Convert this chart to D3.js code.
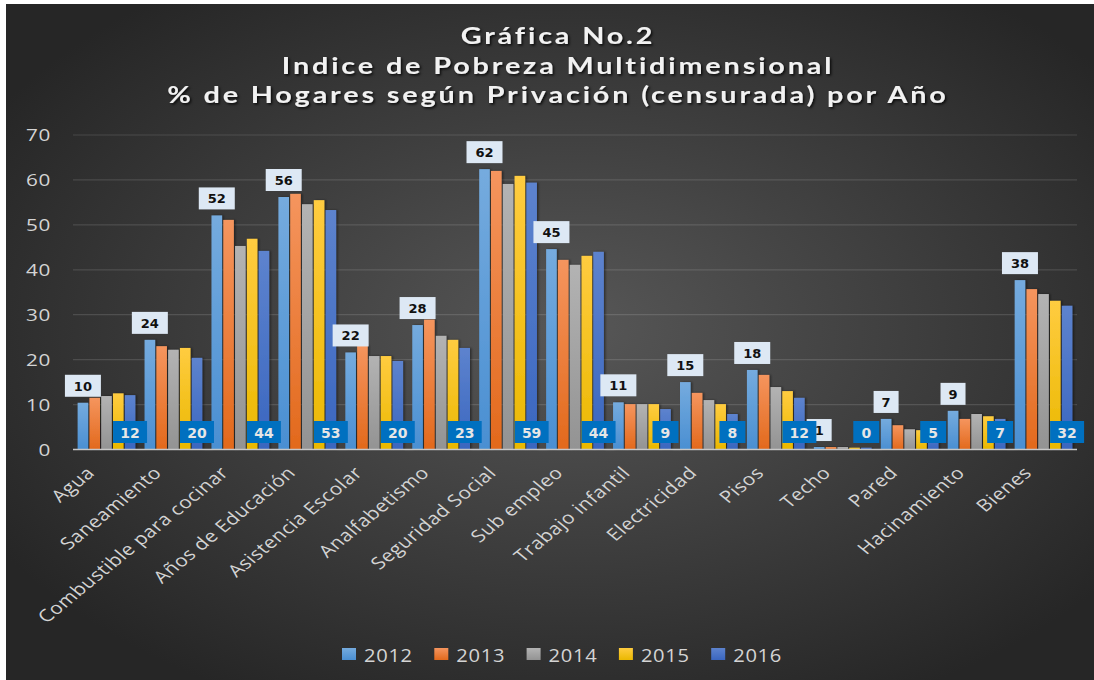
<!DOCTYPE html>
<html><head><meta charset="utf-8">
<script src="https://cdn.jsdelivr.net/npm/d3@7"></script>
<style>
html,body{margin:0;padding:0;background:#fff;}
svg{display:block;}
</style></head>
<body>
<svg id="chart" width="1094" height="680"></svg>
<script>
const categories = ["Agua","Saneamiento","Combustible para cocinar","Años de Educación","Asistencia Escolar","Analfabetismo","Seguridad Social","Sub empleo","Trabajo infantil","Electricidad","Pisos","Techo","Pared","Hacinamiento","Bienes"];
const years = ["2012","2013","2014","2015","2016"];
const v2012 = [10.4,24.4,52.1,56.2,21.6,27.7,62.4,44.6,10.5,15.0,17.7,0.55,6.8,8.6,37.7];
const v2013 = [11.5,23.0,51.1,56.9,23.2,28.9,62.0,42.2,10.1,12.6,16.6,0.55,5.4,6.8,35.7];
const v2014 = [11.9,22.2,45.3,54.6,20.8,25.3,59.1,41.1,10.1,11.0,13.9,0.55,4.5,7.9,34.6];
const v2015 = [12.5,22.6,46.9,55.5,20.8,24.4,60.9,43.1,10.1,10.1,13.0,0.4,4.3,7.4,33.1];
const v2016 = [12.1,20.4,44.2,53.3,19.7,22.6,59.4,44.0,9.0,7.9,11.5,0.4,4.6,6.8,32.0];
const yTicks = [0,10,20,30,40,50,60,70];
const titleLines = ["Gráfica No.2","Indice de Pobreza Multidimensional","% de Hogares según Privación (censurada) por Año"];
const seriesValues = [v2012,v2013,v2014,v2015,v2016];
const colors = {
  "2012":["#75abde","#4a8fd2"],
  "2013":["#f5955e","#e2691c"],
  "2014":["#b3b3b3","#939393"],
  "2015":["#ffcc40","#eab800"],
  "2016":["#5d83ce","#3a66bf"]
};
const SX = 1.22; // horizontal stretch of the reference's text

const svg = d3.select("#chart");
const defs = svg.append("defs");
const bg = defs.append("radialGradient").attr("id","bg").attr("cx","52%").attr("cy","48%").attr("r","62%");
bg.append("stop").attr("offset","0%").attr("stop-color","#575757");
bg.append("stop").attr("offset","100%").attr("stop-color","#262626");
years.forEach(y=>{
  const g = defs.append("linearGradient").attr("id","g"+y).attr("x1",0).attr("y1",0).attr("x2",0).attr("y2",1);
  g.append("stop").attr("offset","0%").attr("stop-color",colors[y][0]);
  g.append("stop").attr("offset","100%").attr("stop-color",colors[y][1]);
});
const sh = defs.append("filter").attr("id","tshadow").attr("x","-5%").attr("y","-20%").attr("width","110%").attr("height","140%");
sh.append("feDropShadow").attr("dx",1.5).attr("dy",1.5).attr("stdDeviation",1).attr("flood-color","#000").attr("flood-opacity",0.8);
const bsh = defs.append("filter").attr("id","bshadow").attr("x","-30%").attr("y","-5%").attr("width","160%").attr("height","110%");
bsh.append("feDropShadow").attr("dx",1.5).attr("dy",0).attr("stdDeviation",1).attr("flood-color","#000").attr("flood-opacity",0.45);

svg.append("rect").attr("x",6).attr("y",4).attr("width",1088).attr("height",676).attr("fill","url(#bg)");

// title
svg.append("g").attr("filter","url(#tshadow)").selectAll("text").data(titleLines).join("text")
  .attr("transform",(d,i)=>`translate(558,${44+i*29.5}) scale(1.25,1)`)
  .attr("text-anchor","middle")
  .attr("font-family","Lato, 'Open Sans', sans-serif").attr("font-weight","bold")
  .attr("font-size",23).attr("letter-spacing",2.3)
  .attr("fill","#f2f2f2").text(d=>d);

const x0 = d3.scaleBand().domain(categories).range([73,1077]).paddingInner(0.1375).paddingOuter(0.069);
const x1 = d3.scaleBand().domain(years).range([0,x0.bandwidth()]).paddingInner(0.1).paddingOuter(0);
const y = d3.scaleLinear().domain([0,70]).range([449.5,135]);

// gridlines
svg.append("g").selectAll("line").data(yTicks.filter(t=>t>0)).join("line")
  .attr("x1",73).attr("x2",1077).attr("y1",d=>y(d)).attr("y2",d=>y(d))
  .attr("stroke","#ffffff").attr("stroke-opacity",0.13).attr("stroke-width",1.2);

// y axis
const yAxis = d3.axisLeft(y).tickValues(yTicks).tickSize(0).tickPadding(0);
const ya = svg.append("g").attr("transform","translate(51,0)").call(yAxis);
ya.select(".domain").remove();
ya.selectAll("text").attr("x",0).attr("transform",`scale(${SX},1)`)
  .attr("font-family","'Open Sans', sans-serif").attr("font-size",17).attr("letter-spacing",0.5)
  .attr("fill","#d4d4d4").attr("dy","0.35em");

// bars
const groups = svg.append("g").selectAll("g").data(categories).join("g")
  .attr("transform",d=>`translate(${x0(d)},0)`);
groups.selectAll("rect").data((c,i)=>years.map((yr,k)=>({yr,v:seriesValues[k][i]}))).join("rect")
  .attr("x",d=>x1(d.yr)).attr("width",x1.bandwidth())
  .attr("y",d=>y(d.v)).attr("height",d=>y(0)-y(d.v))
  .attr("fill",d=>"url(#g"+d.yr+")").attr("filter","url(#bshadow)");

// zero axis line
svg.append("line").attr("x1",73).attr("x2",1077).attr("y1",y(0)).attr("y2",y(0))
  .attr("stroke","#c8c8c8").attr("stroke-width",1.6);

// x axis labels
const xAxis = d3.axisBottom(x0).tickSize(0).tickPadding(0);
const xa = svg.append("g").attr("transform",`translate(0,${y(0)})`).call(xAxis);
xa.select(".domain").remove();
xa.selectAll("text")
  .attr("font-family","'Open Sans', sans-serif").attr("font-size",17).attr("letter-spacing",0.4)
  .attr("fill","#d4d4d4").attr("text-anchor","end")
  .attr("transform",`translate(-21,16) scale(${SX},1) rotate(-45)`).attr("dy","0.7em").attr("y",0).attr("x",0);

// 2012 labels (outside end)
const lab1 = svg.append("g");
categories.forEach((c,i)=>{
  const v = v2012[i];
  const cx = x0(c)+x1("2012")+x1.bandwidth()/2;
  const t = String(Math.round(v));
  const w = t.length===1?25:36;
  const top = y(v)-6-22;
  lab1.append("rect").attr("x",cx-w/2).attr("y",top).attr("width",w).attr("height",22).attr("fill","#dde8f4");
  lab1.append("text").attr("x",cx).attr("y",top+16).attr("text-anchor","middle")
    .attr("font-family","'DejaVu Sans', sans-serif").attr("font-weight","bold").attr("font-size",13)
    .attr("fill","#111").text(t);
});
// 2016 labels (inside base)
const lab2 = svg.append("g");
categories.forEach((c,i)=>{
  const v = v2016[i];
  const cx = x0(c)+x1("2016")+x1.bandwidth()/2;
  const t = String(Math.round(v));
  const w = t.length===1?26:34;
  const top = 421;
  lab2.append("rect").attr("x",cx-w/2).attr("y",top).attr("width",w).attr("height",22).attr("fill","#0070c0");
  lab2.append("text").attr("x",cx).attr("y",top+16.5).attr("text-anchor","middle")
    .attr("font-family","'DejaVu Sans', sans-serif").attr("font-weight","bold").attr("font-size",14)
    .attr("fill","#e6e6e6").text(t);
});

// legend
const leg = svg.append("g").selectAll("g").data(years).join("g")
  .attr("transform",(d,i)=>`translate(${342+i*92.3},648)`);
leg.append("rect").attr("width",14).attr("height",12).attr("fill",d=>"url(#g"+d+")");
leg.append("text").attr("transform","translate(22,14) scale(1.12,1)").attr("font-family","'Open Sans', sans-serif").attr("font-size",18)
  .attr("letter-spacing",0.6).attr("fill","#d4d4d4").text(d=>d);
</script>
</body></html>
